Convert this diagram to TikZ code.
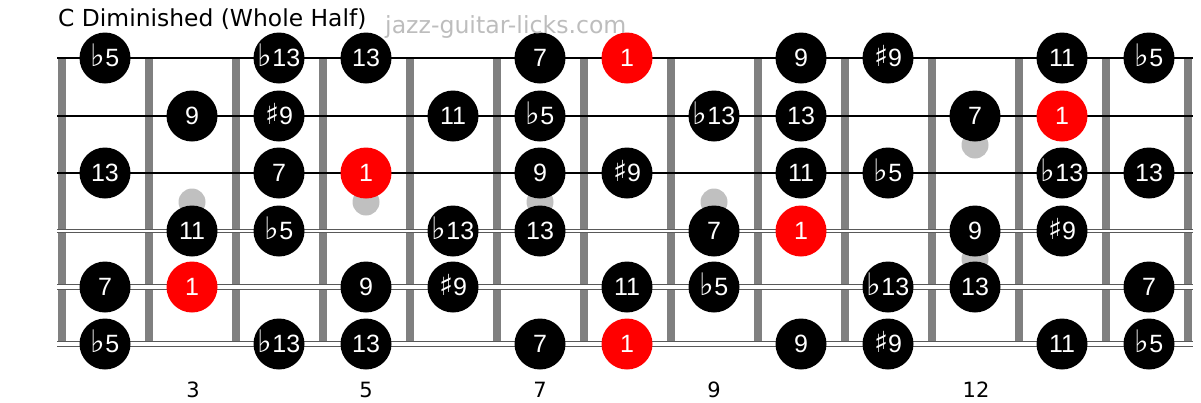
\documentclass[tikz,border=0pt]{standalone}
\usepackage{fontspec}
\setmainfont{DejaVu Sans}
\newfontfamily\notefont{Liberation Sans}
\newfontfamily\accfont{DejaVu Sans}
\usepackage{xcolor}
\usepackage{tikz}
\definecolor{fretgray}{HTML}{808080}
\definecolor{inlaygray}{HTML}{C0C0C0}
\definecolor{markgray}{HTML}{BDBDBD}
\definecolor{rootred}{HTML}{FF0000}
\newcommand\flt{{\accfont\fontsize{31}{31}\selectfont ♭}}
\newcommand\shp{{\accfont\fontsize{29}{29}\selectfont ♯}}

\begin{document}
\begin{tikzpicture}[x=1pt,y=-1pt,
  note/.style={shape=circle,fill=black,minimum size=51pt,inner sep=0pt,text=white,
    font=\notefont\fontsize{25}{25}\selectfont,text height=17.9pt,text depth=0pt},
  root/.style={note,fill=rootred},
  inlay/.style={shape=circle,fill=inlaygray,minimum size=27pt,inner sep=0pt},
  fretbar/.style={fill=fretgray},
  plain/.style={draw=black,line width=1.2pt},
  wound/.style={draw=black!65,line width=1pt,double=white,double distance=#1},
  fretnum/.style={font=\fontsize{21}{21}\selectfont,anchor=base}]
\useasboundingbox (0,0) rectangle (1201,402);

% frets
\fill[fretbar] (58,58) rectangle (66,347);
\fill[fretbar] (145,58) rectangle (153,347);
\fill[fretbar] (232,58) rectangle (240,347);
\fill[fretbar] (319,58) rectangle (327,347);
\fill[fretbar] (406,58) rectangle (414,347);
\fill[fretbar] (493,58) rectangle (501,347);
\fill[fretbar] (580,58) rectangle (588,347);
\fill[fretbar] (667,58) rectangle (675,347);
\fill[fretbar] (754,58) rectangle (762,347);
\fill[fretbar] (841,58) rectangle (849,347);
\fill[fretbar] (928,58) rectangle (936,347);
\fill[fretbar] (1015,58) rectangle (1023,347);
\fill[fretbar] (1102,58) rectangle (1110,347);
\fill[fretbar] (1184,58) rectangle (1192,347);

% strings
\draw[plain] (57,58) -- (1193,58);
\draw[plain] (57,116) -- (1193,116);
\draw[plain] (57,173) -- (1193,173);
\draw[wound=1.8pt] (57,231) -- (1193,231);
\draw[wound=3.2pt] (57,287) -- (1193,287);
\draw[wound=4.6pt] (57,344) -- (1193,344);

% inlays
\node[inlay] (i3) at (192,202) {};
\node[inlay] (i5) at (366,202) {};
\node[inlay] (i7) at (540,202) {};
\node[inlay] (i9) at (714,202) {};
\node[inlay] (i12a) at (975,145) {};
\node[inlay] (i12b) at (975,259) {};

% string 1
\node[note] (s1c0) at (105,58) {\flt5};
\node[note] (s1c2) at (279,58) {\flt13};
\node[note] (s1c3) at (366,58) {13};
\node[note] (s1c5) at (540,58) {7};
\node[root] (s1c6) at (627,58) {1};
\node[note] (s1c8) at (801,58) {9};
\node[note] (s1c9) at (888,58) {\shp9};
\node[note] (s1c11) at (1062,58) {11};
\node[note] (s1c12) at (1149,58) {\flt5};
% string 2
\node[note] (s2c1) at (192,116) {9};
\node[note] (s2c2) at (279,116) {\shp9};
\node[note] (s2c4) at (453,116) {11};
\node[note] (s2c5) at (540,116) {\flt5};
\node[note] (s2c7) at (714,116) {\flt13};
\node[note] (s2c8) at (801,116) {13};
\node[note] (s2c10) at (975,116) {7};
\node[root] (s2c11) at (1062,116) {1};
% string 3
\node[note] (s3c0) at (105,173) {13};
\node[note] (s3c2) at (279,173) {7};
\node[root] (s3c3) at (366,173) {1};
\node[note] (s3c5) at (540,173) {9};
\node[note] (s3c6) at (627,173) {\shp9};
\node[note] (s3c8) at (801,173) {11};
\node[note] (s3c9) at (888,173) {\flt5};
\node[note] (s3c11) at (1062,173) {\flt13};
\node[note] (s3c12) at (1149,173) {13};
% string 4
\node[note] (s4c1) at (192,231) {11};
\node[note] (s4c2) at (279,231) {\flt5};
\node[note] (s4c4) at (453,231) {\flt13};
\node[note] (s4c5) at (540,231) {13};
\node[note] (s4c7) at (714,231) {7};
\node[root] (s4c8) at (801,231) {1};
\node[note] (s4c10) at (975,231) {9};
\node[note] (s4c11) at (1062,231) {\shp9};
% string 5
\node[note] (s5c0) at (105,287) {7};
\node[root] (s5c1) at (192,287) {1};
\node[note] (s5c3) at (366,287) {9};
\node[note] (s5c4) at (453,287) {\shp9};
\node[note] (s5c6) at (627,287) {11};
\node[note] (s5c7) at (714,287) {\flt5};
\node[note] (s5c9) at (888,287) {\flt13};
\node[note] (s5c10) at (975,287) {13};
\node[note] (s5c12) at (1149,287) {7};
% string 6
\node[note] (s6c0) at (105,344) {\flt5};
\node[note] (s6c2) at (279,344) {\flt13};
\node[note] (s6c3) at (366,344) {13};
\node[note] (s6c5) at (540,344) {7};
\node[root] (s6c6) at (627,344) {1};
\node[note] (s6c8) at (801,344) {9};
\node[note] (s6c9) at (888,344) {\shp9};
\node[note] (s6c11) at (1062,344) {11};
\node[note] (s6c12) at (1149,344) {\flt5};

% fret numbers
\node[fretnum] (n3) at (193,397) {3};
\node[fretnum] (n5) at (366,397) {5};
\node[fretnum] (n7) at (540,397) {7};
\node[fretnum] (n9) at (714,397) {9};
\node[fretnum] (n12) at (976,397) {12};

% title
\node[anchor=base west,inner sep=0pt,font=\fontsize{23.4}{23.4}\selectfont] (title) at (58,26) {C Diminished (Whole Half)};
\node[anchor=base west,inner sep=0pt,text=markgray,font=\fontsize{23.6}{23.6}\selectfont] (site) at (385,33) {jazz-guitar-licks.com};
\end{tikzpicture}
\end{document}
